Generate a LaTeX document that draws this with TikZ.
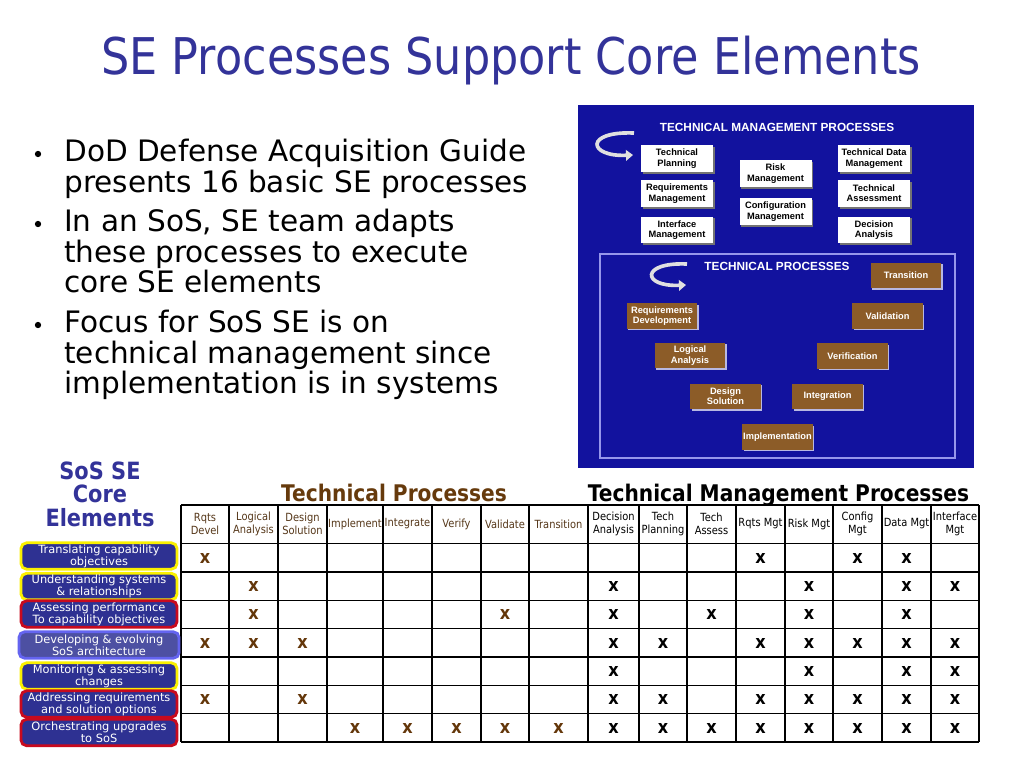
\documentclass[tikz,border=0pt]{standalone}
\usepackage{fontspec}
\setmainfont{DejaVu Sans}
\newfontfamily\tahoma[FakeStretch=0.88]{DejaVu Sans}
\newfontfamily\arial{Liberation Sans}
\usetikzlibrary{arrows.meta,shadows}

\definecolor{titleblue}{RGB}{51,51,153}
\definecolor{panelblue}{RGB}{18,18,158}
\definecolor{framelilac}{RGB}{150,150,235}
\definecolor{procbrown}{RGB}{140,92,40}
\definecolor{headbrown}{RGB}{102,58,12}
\definecolor{cellbrown}{RGB}{85,55,25}
\definecolor{markbrown}{RGB}{100,55,10}
\definecolor{rowblue}{RGB}{46,49,146}
\definecolor{rowyellow}{RGB}{250,240,0}
\definecolor{rowred}{RGB}{200,10,30}
\definecolor{rowlilac}{RGB}{100,100,240}

\begin{document}
\begin{tikzpicture}[x=0.025cm,y=-0.025cm,
	mgtbox/.style={fill=white, minimum width=1.8cm, minimum height=0.67cm, inner sep=0pt, align=center,
		font=\arial\bfseries\fontsize{6.6}{7.3}\selectfont,
		drop shadow={shadow xshift=1.2pt, shadow yshift=-1.2pt, fill=black!55, opacity=1}},
	procbox/.style={fill=procbrown, text=white, minimum width=1.76cm, minimum height=0.64cm, inner sep=0pt, align=center,
		font=\arial\bfseries\fontsize{6.6}{7.3}\selectfont,
		drop shadow={shadow xshift=1.2pt, shadow yshift=-1.2pt, fill=white!70!panelblue, opacity=1}},
	paneltitle/.style={text=white, inner sep=0pt, font=\arial\bfseries\fontsize{8.4}{10}\selectfont},
	turnarrow/.style={draw=white!88!black, line width=2.6pt, -{Triangle[length=5pt,width=7.5pt]}},
	grid/.style={draw=black, line width=0.9pt},
	headcell/.style={align=center, inner sep=0pt, font=\tahoma\fontsize{8}{9.2}\selectfont},
	xmark/.style={inner sep=0pt, font=\tahoma\bfseries\fontsize{13}{13}\selectfont},
	rowbox/.style={fill=rowblue, text=white, rounded corners=4pt, line width=2pt, minimum width=3.9cm,
		minimum height=0.66cm, inner sep=0pt, align=center, font=\fontsize{8.1}{8.5}\selectfont},
	bullettext/.style={anchor=north west, inner sep=0pt, align=left, font=\fontsize{21}{21.7}\selectfont},
	dot/.style={circle, fill=black, inner sep=0pt, minimum size=4.5pt}
	]
	\useasboundingbox[fill=white] (0,0) rectangle (1024,768);

	% title
	\node[anchor=base, text=titleblue, inner sep=0pt, font=\tahoma\fontsize{36}{40}\selectfont] (title) at (511,75) {SE Processes Support Core Elements};

	% bullets
	\node[dot] (d1) at (38,154) {};
	\node[bullettext] (b1) at (64,139) {DoD Defense Acquisition Guide\\presents 16 basic SE processes};
	\node[dot] (d2) at (38,224) {};
	\node[bullettext] (b2) at (64,209) {In an SoS, SE team adapts\\these processes to execute\\core SE elements};
	\node[dot] (d3) at (38,325) {};
	\node[bullettext] (b3) at (64,310) {Focus for SoS SE is on\\technical management since\\implementation is in systems};

	% process panel
	\fill[panelblue] (578,105) rectangle (974,468);
	\node[paneltitle] (tmp) at (777,127) {TECHNICAL MANAGEMENT PROCESSES};
	\coordinate (tm-s) at (634,133);
	\coordinate (tm-e) at (633,155);
	\draw[turnarrow] (tm-s) .. controls (584,131) and (588,157) .. (tm-e);
	\node[mgtbox] (plan) at (677,158.5) {Technical\\Planning};
	\node[mgtbox] (reqm) at (677,193.5) {Requirements\\Management};
	\node[mgtbox] (intm) at (677,230) {Interface\\Management};
	\node[mgtbox] (risk) at (775.5,173.5) {Risk\\Management};
	\node[mgtbox] (conf) at (775.5,211.5) {Configuration\\Management};
	\node[mgtbox] (datm) at (874,158.5) {Technical Data\\Management};
	\node[mgtbox] (asse) at (874,193.5) {Technical\\Assessment};
	\node[mgtbox] (deci) at (874,230) {Decision\\Analysis};

	\draw[framelilac, line width=1.4pt] (600,254) rectangle (955,458);
	\node[paneltitle] (tpr) at (777,266) {TECHNICAL PROCESSES};
	\coordinate (tp-s) at (687,264);
	\coordinate (tp-e) at (686,285);
	\draw[turnarrow] (tp-s) .. controls (640,262) and (642,287) .. (tp-e);
	\node[procbox] (tran) at (906,275.5) {Transition};
	\node[procbox] (reqd) at (662,316) {Requirements\\Development};
	\node[procbox] (vali) at (887.5,316) {Validation};
	\node[procbox] (logi) at (690,355.5) {Logical\\Analysis};
	\node[procbox] (veri) at (852.5,356) {Verification};
	\node[procbox] (desi) at (725.5,396.5) {Design\\Solution};
	\node[procbox] (inte) at (827.5,396.5) {Integration};
	\node[procbox] (impl) at (777.5,437) {Implementation};

	% table headings
	\node[text=titleblue, font=\tahoma\bfseries\fontsize{16.9}{16.7}\selectfont, align=center, inner sep=0pt] (core) at (100,494) {SoS SE\\Core\\Elements};
	\node[anchor=base, text=headbrown, inner sep=0pt, font=\tahoma\bfseries\fontsize{16.3}{18}\selectfont] (tph) at (394,501) {Technical Processes};
	\node[anchor=base, text=black, inner sep=0pt, font=\tahoma\bfseries\fontsize{16.3}{18}\selectfont] (tmh) at (778.5,501) {Technical Management Processes};

	% grid
	\foreach \cx in {181,229,278,327,383,432,481,529,588,639,687,736,785,833,882,931,979}
		\draw[grid] (\cx,505) -- (\cx,742);
	\foreach \ry in {505,543.5,572,600.3,628.6,657,685.3,713.7,742}
		\draw[grid] (181,\ry) -- (979,\ry);

	\foreach \cx/\txt [count=\i] in {205/{Rqts\\Devel}, 253.5/{Logical\\Analysis}, 302.5/{Design\\Solution},
		355/Implement, 407.5/Integrate, 456.5/Verify, 505/Validate, 558.5/Transition}
		\node[headcell, text=cellbrown] (h\i) at (\cx,524) {\txt};
	\foreach \cx/\txt [count=\i from 9] in {613.5/{Decision\\Analysis}, 663/{Tech\\Planning}, 711.5/{Tech\\Assess},
		760.5/Rqts Mgt, 809/Risk Mgt, 857.5/{Config\\Mgt}, 906.5/Data Mgt, 955/{Interface\\Mgt}}
		\node[headcell, text=black] (h\i) at (\cx,524) {\txt};

	% core elements
	\node[rowbox, draw=rowyellow] (e1) at (99,556) {Translating capability\\objectives};
	\node[rowbox, draw=rowyellow] (e2) at (99,586.5) {Understanding systems\\\& relationships};
	\node[rowbox, draw=rowred] (e3) at (99,614) {Assessing performance\\To capability objectives};
	\node[rowbox, draw=rowlilac, fill=rowblue!85!white, minimum width=4cm] (e4) at (99,645) {Developing \& evolving\\SoS architecture};
	\node[rowbox, draw=rowyellow] (e5) at (99,676) {Monitoring \& assessing\\changes};
	\node[rowbox, draw=rowred] (e6) at (99,704) {Addressing requirements\\and solution options};
	\node[rowbox, draw=rowred] (e7) at (99,732.5) {Orchestrating upgrades\\to SoS};

	% marks
	\foreach \r/\ry in {1/558,2/586.3,3/614.6,4/643,5/671.2,6/699.5,7/728}
		\coordinate (r\r) at (0,\ry);
	\foreach \r/\cols in {1/{1}, 2/{2}, 3/{2,7}, 4/{1,2,3}, 6/{1,3}, 7/{4,5,6,7,8}}
		\foreach \c in \cols
			\node[xmark, text=markbrown] (m\r-\c) at (h\c |- r\r) {x};
	\foreach \r/\cols in {1/{12,14,15}, 2/{9,13,15,16}, 3/{9,11,13,15}, 4/{9,10,12,13,14,15,16},
		5/{9,13,15,16}, 6/{9,10,12,13,14,15,16}, 7/{9,10,11,12,13,14,15,16}}
		\foreach \c in \cols
			\node[xmark, text=black] (m\r-\c) at (h\c |- r\r) {x};
\end{tikzpicture}
\end{document}
